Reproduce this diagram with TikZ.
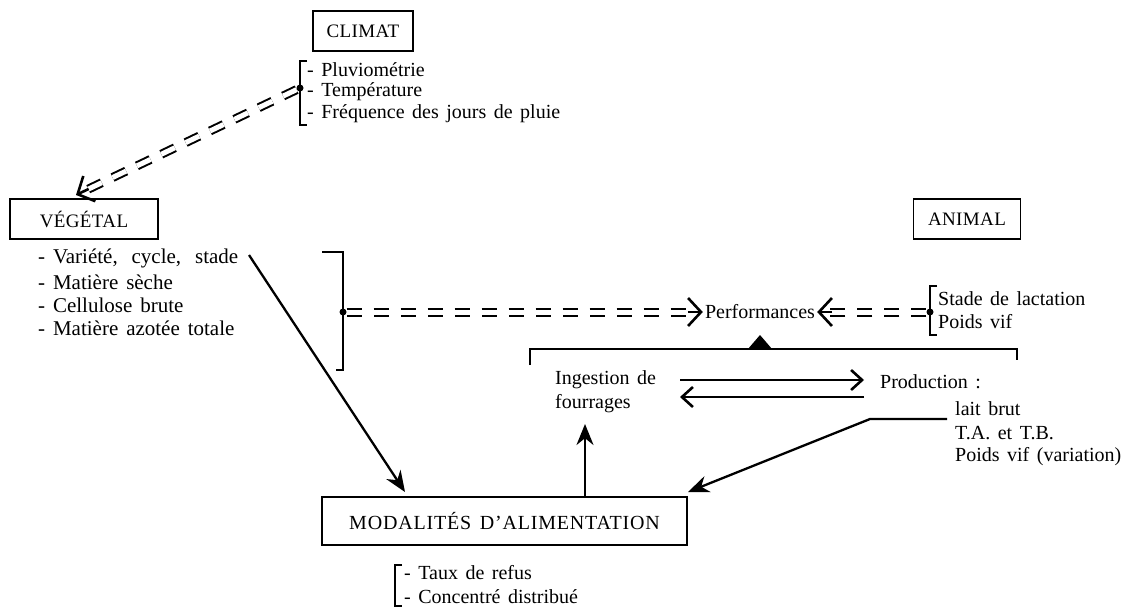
\documentclass[tikz,border=0pt]{standalone}
\usepackage{fontspec}
\setmainfont[WordSpace=1.5]{Liberation Serif}
\usetikzlibrary{arrows.meta,calc}
\begin{document}
\begin{tikzpicture}[x=1pt,y=-1pt,
  every node/.style={font=\fontsize{20}{24}\selectfont},
  txt/.style={anchor=west,inner sep=0pt},
  ctxt/.style={anchor=west,inner sep=0pt,font=\fontsize{20}{22}\selectfont},
  vtxt/.style={anchor=west,inner sep=0pt,font=\fontsize{21}{24}\selectfont},
  box/.style={draw,line width=1.9pt,minimum height=40pt,inner sep=0pt,
     font=\fontsize{19}{24}\selectfont\addfontfeature{LetterSpace=2}},
  brk/.style={line width=2.2pt},
  ddash/.style={double,double distance=5pt,line width=2pt,dash pattern=on 15pt off 12pt},
  chev/.style={line width=2.6pt,-{Straight Barb[length=13pt,width=28pt]}},
  solidarr/.style={line width=2.3pt,-{Stealth[length=21pt,width=17pt]}},
  barb/.style={line width=2.6pt,-{Straight Barb[length=11pt,width=20pt]}},
  dot/.style={circle,fill,inner sep=0pt,minimum size=7pt}
]
\useasboundingbox (0,0) rectangle (1136,611);
% boxes
\node[box,minimum width=100pt] (clim) at (363,31) {CLIMAT};
\node[box,minimum width=148pt] (veg) at (84,219) {VÉGÉTAL};
\node[box,minimum width=107pt] (anim) at (967,219) {ANIMAL};
\node[box,minimum width=365pt,minimum height=48pt,
  font=\fontsize{20}{24}\selectfont\addfontfeature{LetterSpace=4}] (mod) at (504.5,521) {MODALITÉS D'ALIMENTATION};
% climat list
\node[ctxt] (c1) at (307,70) {- Pluviométrie};
\node[ctxt] (c2) at (307,92) {- Température};
\node[ctxt] (c3) at (307,114) {- Fréquence des jours de pluie};
\draw[brk] (307,61) -- (300,61) -- (300,125) -- (307,125);
\node[dot] (cdot) at (300,88) {};
% vegetal list
\node[vtxt] (v1) at (38,258) {- Variété,\hspace{6pt} cycle,\hspace{6pt} stade};
\node[vtxt] (v2) at (38,282) {- Matière sèche};
\node[vtxt] (v3) at (38,305) {- Cellulose brute};
\node[vtxt] (v4) at (38,328) {- Matière azotée totale};
\draw[brk] (322,252) -- (343,252) -- (343,370) -- (336,370);
\node[dot] (vdot) at (343,312) {};
% animal list
\node[txt] (a1) at (938,299) {Stade de lactation};
\node[txt] (a2) at (938,322) {Poids vif};
\draw[brk] (937,286) -- (930,286) -- (930,335) -- (937,335);
\node[dot] (adot) at (930,312) {};
% performances
\node[inner sep=2pt] (perf) at (760,312) {Performances};
% ingestion / production
\node[txt,align=left] (ing) at (555,392) {Ingestion de\\fourrages};
\node[txt] (prod) at (880,382) {Production :};
\node[txt] (p1) at (955,409) {lait brut};
\node[txt] (p2) at (955,433) {T.A. et T.B.};
\node[txt] (p3) at (955,457) {Poids vif (variation)};
% bottom list
\node[txt] (m1) at (404,573) {- Taux de refus};
\node[txt] (m2) at (404,597) {- Concentré distribué};
\draw[brk] (402,565) -- (395,565) -- (395,606) -- (402,606);
% coordinates
\coordinate (vegtip) at (76,195);
\coordinate (lineL) at (530,349);
\coordinate (lineR) at (1017,349);
\coordinate (perfbase) at (760,349);
\coordinate (ingR) at (680,380);
\coordinate (prodL) at (864,380);
\coordinate (ingR2) at (680,397);
\coordinate (prodL2) at (864,397);
\coordinate (stadeEnd) at (249,255);
\coordinate (modTL) at (405,492);
\coordinate (modTR) at (688,492);
\coordinate (modTop) at (585,497);
\coordinate (ingBot) at (585,424);
\coordinate (laitL) at (947,419);
\coordinate (laitK) at (870,419);
% connectors
\draw[ddash] (cdot) -- ($(vegtip)!8pt!(cdot)$);
\draw[chev] ($(vegtip)!14pt!(cdot)$) -- (vegtip);
\draw[ddash] (vdot) -- ($(perf.west)+(-8,0)$);
\draw[chev] ($(perf.west)+(-15,0)$) -- (perf.west);
\draw[ddash] (adot) -- ($(perf.east)+(8,0)$);
\draw[chev] ($(perf.east)+(15,0)$) -- (perf.east);
\draw[line width=2.2pt] ($(lineL)+(0,16)$) -- (lineL) -- (lineR) -- ++(0,11);
\draw[line width=1.5pt,-{Triangle[length=13pt,width=22pt]}] (perfbase) -- ++(0,-14);
\draw[barb] (ingR) -- (prodL);
\draw[barb] (prodL2) -- (ingR2);
\draw[solidarr] (stadeEnd) -- (modTL);
\draw[solidarr] (modTop) -- (ingBot);
\draw[solidarr] (laitL) -- (laitK) -- (modTR);
\end{tikzpicture}
\end{document}
